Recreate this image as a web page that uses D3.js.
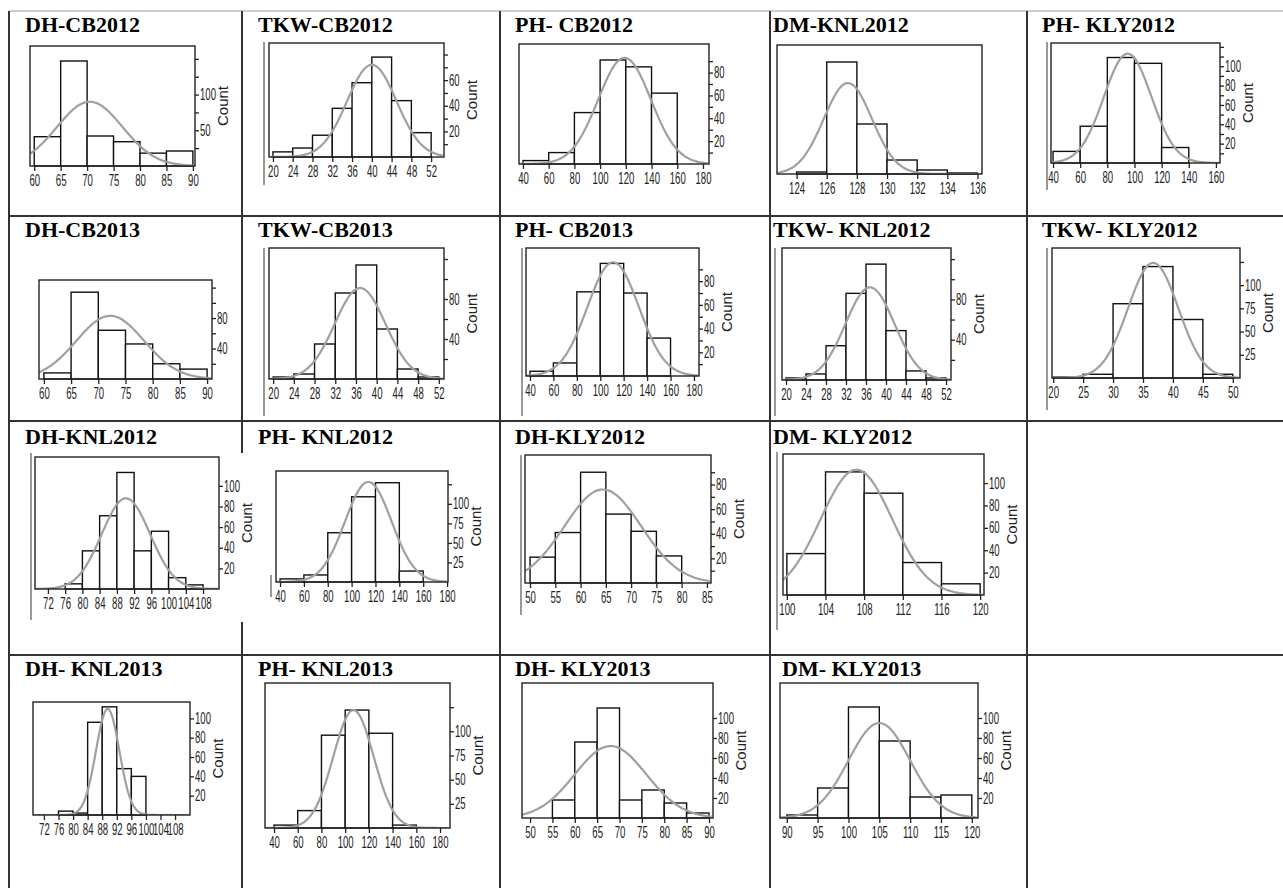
<!DOCTYPE html>
<html lang="en">
<head>
<meta charset="UTF-8">
<title>Histograms</title>
<script src="https://d3js.org/d3.v7.min.js"></script>
<style>
  body { margin: 0; background: #fff; }
  .title { font-family: "Liberation Serif", "Times New Roman", serif; font-weight: bold; font-size: 22px; fill: #000; }
  .tick text { font-family: "Liberation Sans", Arial, sans-serif; font-size: 16px; fill: #222; }
  .countLabel { font-family: "Liberation Sans", Arial, sans-serif; font-size: 15px; fill: #222; }
</style>
</head>
<body>
<svg id="chart" width="1283" height="888"></svg>
<script>

  // ---- data ----
  var titles = ["DH-CB2012", "TKW-CB2012", "PH- CB2012", "DM-KNL2012", "PH- KLY2012",
                "DH-CB2013", "TKW-CB2013", "PH- CB2013", "TKW- KNL2012", "TKW- KLY2012",
                "DH-KNL2012", "PH- KNL2012", "DH-KLY2012", "DM- KLY2012",
                "DH- KNL2013", "PH- KNL2013", "DH- KLY2013", "DM- KLY2013"];

  var binEdges = [
    [60, 65, 70, 75, 80, 85, 90],
    [20, 24, 28, 32, 36, 40, 44, 48, 52],
    [40, 60, 80, 100, 120, 140, 160],
    [124, 126, 128, 130, 132, 134, 136],
    [40, 60, 80, 100, 120, 140],
    [60, 65, 70, 75, 80, 85, 90],
    [20, 24, 28, 32, 36, 40, 44, 48, 52],
    [40, 60, 80, 100, 120, 140, 160],
    [20, 24, 28, 32, 36, 40, 44, 48, 52],
    [20, 25, 30, 35, 40, 45, 50],
    [76, 80, 84, 88, 92, 96, 100, 104, 108],
    [40, 60, 80, 100, 120, 140, 160],
    [50, 55, 60, 65, 70, 75, 80],
    [100, 104, 108, 112, 116, 120],
    [76, 80, 84, 88, 92, 96, 100],
    [40, 60, 80, 100, 120, 140, 160],
    [55, 60, 65, 70, 75, 80, 85, 90],
    [90, 95, 100, 105, 110, 115, 120]
  ];

  var counts = [
    [41, 147, 42, 34, 18, 21],
    [4, 7, 17, 38, 58, 78, 44, 19],
    [3, 10, 45, 91, 85, 62],
    [2, 112, 50, 14, 4, 1],
    [12, 38, 109, 103, 16],
    [8, 114, 64, 46, 20, 13],
    [2, 5, 35, 86, 114, 50, 10, 2],
    [4, 11, 71, 95, 70, 32],
    [2, 6, 34, 86, 115, 49, 9, 2],
    [1, 4, 80, 120, 63, 4],
    [5, 37, 71, 113, 37, 56, 11, 4],
    [4, 9, 63, 109, 127, 14],
    [21, 41, 90, 56, 42, 22],
    [37, 110, 91, 29, 10],
    [4, 2, 96, 112, 48, 40],
    [3, 18, 96, 122, 98, 3],
    [18, 76, 110, 18, 28, 15, 5],
    [3, 30, 111, 77, 21, 23]
  ];

  // fitted normal curve: mean, sd, height of peak (count)
  var fitMean = [70.5, 40, 119, 127.4, 95, 72.2, 36.8, 111, 36.8, 36.7, 90.1, 114, 64.4, 107.2, 89.5, 107, 68, 105];
  var fitSd   = [6.2, 5, 20.5, 1.6, 17.5, 6.2, 4.9, 22, 4.9, 4.2, 5.6, 19.5, 7.6, 3.7, 3.2, 17, 8, 5];
  var fitPeak = [90, 72, 93, 91, 113, 83, 91, 96, 92, 124, 88, 128, 76, 112, 110, 122, 72, 95];

  var xTicks = [
    [60, 65, 70, 75, 80, 85, 90],
    [20, 24, 28, 32, 36, 40, 44, 48, 52],
    [40, 60, 80, 100, 120, 140, 160, 180],
    [124, 126, 128, 130, 132, 134, 136],
    [40, 60, 80, 100, 120, 140, 160],
    [60, 65, 70, 75, 80, 85, 90],
    [20, 24, 28, 32, 36, 40, 44, 48, 52],
    [40, 60, 80, 100, 120, 140, 160, 180],
    [20, 24, 28, 32, 36, 40, 44, 48, 52],
    [20, 25, 30, 35, 40, 45, 50],
    [72, 76, 80, 84, 88, 92, 96, 100, 104, 108],
    [40, 60, 80, 100, 120, 140, 160, 180],
    [50, 55, 60, 65, 70, 75, 80, 85],
    [100, 104, 108, 112, 116, 120],
    [72, 76, 80, 84, 88, 92, 96, 100, 104, 108],
    [40, 60, 80, 100, 120, 140, 160, 180],
    [50, 55, 60, 65, 70, 75, 80, 85, 90],
    [90, 95, 100, 105, 110, 115, 120]
  ];

  var yTicks = [
    [25, 50, 75, 100, 125, 150],
    [10, 20, 30, 40, 50, 60, 70, 80],
    [10, 20, 30, 40, 50, 60, 70, 80, 90],
    [],
    [10, 20, 30, 40, 50, 60, 70, 80, 90, 100, 110, 120],
    [20, 40, 60, 80, 100, 120],
    [20, 40, 60, 80, 100, 120],
    [10, 20, 30, 40, 50, 60, 70, 80, 90],
    [20, 40, 60, 80, 100, 120],
    [25, 50, 75, 100, 125],
    [20, 40, 60, 80, 100],
    [25, 50, 75, 100, 125],
    [10, 20, 30, 40, 50, 60, 70, 80, 90],
    [20, 40, 60, 80, 100],
    [20, 40, 60, 80, 100],
    [25, 50, 75, 100, 125],
    [20, 40, 60, 80, 100],
    [20, 40, 60, 80, 100]
  ];

  var yLabels = [
    [50, 100], [20, 40, 60], [20, 40, 60, 80], [], [20, 40, 60, 80, 100],
    [40, 80], [40, 80], [20, 40, 60, 80], [40, 80], [25, 50, 75, 100],
    [20, 40, 60, 80, 100], [25, 50, 75, 100], [20, 40, 60, 80], [20, 40, 60, 80, 100],
    [20, 40, 60, 80, 100], [25, 50, 75, 100], [20, 40, 60, 80, 100], [20, 40, 60, 80, 100]
  ];

  var showCount = [true, true, false, false, true, false, true, true, true, true,
                   true, true, true, true, true, true, true, true];

  // x value at frame left/right edge, count at frame top
  var xDomains = [
    [59.2, 90.4], [19.2, 54.6], [36.9, 184.7], [122.7, 136.3], [38.5, 163],
    [59.1, 90.9], [19.2, 53.0], [36.6, 184.3], [19.2, 53.0], [19.8, 51.2],
    [69, 111.7], [36.6, 180.8], [49.0, 85.8], [99.6, 120.4],
    [69, 112.1], [32.4, 188.4], [48.2, 90.9], [88.9, 121]
  ];
  var yTops = [168, 89, 105, 129, 124, 130, 131, 108, 131, 140, 128, 142, 104, 126, 117, 150, 135, 135];

  // ---- layout ----
  var gridCols = [9, 242, 500, 770, 1027, 1283];
  var gridRows = [11, 216, 421, 655, 888];

  var frames = [
    [30, 46, 195, 166], [269, 43, 444, 157], [519, 44, 709, 164], [777, 45, 982, 174], [1051, 43, 1220, 163],
    [39, 280, 212, 379], [269, 248, 444, 379], [526, 248, 699, 376], [782, 248, 951, 380], [1052, 248, 1240, 378],
    [35, 457, 219, 589], [276, 471, 448, 582], [525, 455, 711, 583], [783, 454, 984, 595],
    [33, 702, 190, 815], [265, 683, 450, 828], [522, 683, 713, 818], [780, 683, 978, 818]
  ];
  var titlePos = [
    [25, 32], [258, 32], [515, 32], [773, 32], [1042, 32],
    [25, 237], [258, 237], [515, 237], [773, 237], [1042, 237],
    [25, 444], [258, 444], [515, 444], [773, 444],
    [25, 676], [258, 676], [515, 676], [782, 676]
  ];
  // stray left edges of the pasted images
  var edges = [
    [264, 42, 185], [1047, 42, 190], [264, 248, 416], [522, 248, 416], [775, 248, 416],
    [1047, 248, 410], [31, 453, 620], [271, 575, 597], [521, 455, 615], [777, 452, 630]
  ];
  var covers = [[238, 453, 8, 169]];

  var svg = d3.select("#chart");
  var gridG = svg.append("g");

  gridG.append("line").attr("x1", gridCols[0]).attr("x2", 1283)
    .attr("y1", gridRows[0]).attr("y2", gridRows[0])
    .style("stroke", "#bbb").style("stroke-width", 1.5);
  gridRows.slice(1, 4).forEach(function (y) {
    gridG.append("line").attr("x1", gridCols[0]).attr("x2", 1283).attr("y1", y).attr("y2", y)
      .style("stroke", "#333").style("stroke-width", 2);
  });
  gridCols.slice(0, 5).forEach(function (x) {
    gridG.append("line").attr("x1", x).attr("x2", x).attr("y1", gridRows[0]).attr("y2", 888)
      .style("stroke", "#333").style("stroke-width", 2);
  });
  covers.forEach(function (c) {
    gridG.append("rect").attr("x", c[0]).attr("y", c[1]).attr("width", c[2]).attr("height", c[3]).style("fill", "#fff");
  });
  edges.forEach(function (e) {
    gridG.append("line").attr("x1", e[0]).attr("x2", e[0]).attr("y1", e[1]).attr("y2", e[2])
      .style("stroke", "#777").style("stroke-width", 1.5);
  });

  var narrow = 0.6;

  function drawPanel(i) {
    var f = frames[i];
    var g = svg.append("g");

    g.append("text").attr("class", "title")
      .attr("x", titlePos[i][0]).attr("y", titlePos[i][1]).text(titles[i]);

    var x = d3.scaleLinear().domain(xDomains[i]).range([f[0], f[2]]);
    var y = d3.scaleLinear().domain([0, yTops[i]]).range([f[3], f[1]]);

    var clipId = "clip" + i;
    svg.append("clipPath").attr("id", clipId)
      .append("rect").attr("x", f[0]).attr("y", f[1]).attr("width", f[2] - f[0]).attr("height", f[3] - f[1]);

    var bins = counts[i].map(function (c, k) {
      return { x0: binEdges[i][k], x1: binEdges[i][k + 1], n: c };
    });

    g.append("g").selectAll("rect")
      .data(bins)
      .join("rect")
      .attr("x", function (d) { return x(d.x0); })
      .attr("y", function (d) { return y(d.n); })
      .attr("width", function (d) { return x(d.x1) - x(d.x0); })
      .attr("height", function (d) { return y(0) - y(d.n); })
      .style("fill", "#fff")
      .style("stroke", "#111")
      .style("stroke-width", 1.4);

    var m = fitMean[i], s = fitSd[i], p = fitPeak[i];
    var xs = d3.range(xDomains[i][0], xDomains[i][1], (xDomains[i][1] - xDomains[i][0]) / 150);
    var line = d3.line()
      .x(function (v) { return x(v); })
      .y(function (v) { return y(p * Math.exp(-(v - m) * (v - m) / (2 * s * s))); })
      .curve(d3.curveBasis);
    g.append("path").datum(xs)
      .attr("d", line)
      .attr("clip-path", "url(#" + clipId + ")")
      .style("fill", "none")
      .style("stroke", "#a0a0a0")
      .style("stroke-width", 2.2);

    g.append("rect")
      .attr("x", f[0]).attr("y", f[1]).attr("width", f[2] - f[0]).attr("height", f[3] - f[1])
      .style("fill", "none").style("stroke", "#222").style("stroke-width", 1.4);

    var xAxis = d3.axisBottom(x).tickValues(xTicks[i]).tickSize(5).tickSizeOuter(0);
    var xg = g.append("g").attr("transform", "translate(0," + f[3] + ")").call(xAxis);
    xg.select(".domain").remove();
    xg.selectAll(".tick line").style("stroke", "#222").style("stroke-width", 1.3);
    xg.selectAll(".tick text").attr("transform", "scale(" + narrow + ",1)").attr("y", 9);

    if (yTicks[i].length) {
      var labs = yLabels[i];
      var yAxis = d3.axisRight(y).tickValues(yTicks[i]).tickSize(4).tickSizeOuter(0)
        .tickFormat(function (d) { return labs.indexOf(d) >= 0 ? d : ""; });
      var yg = g.append("g").attr("transform", "translate(" + f[2] + ",0)").call(yAxis);
      yg.select(".domain").remove();
      yg.selectAll(".tick line").style("stroke", "#222").style("stroke-width", 1.3);
      yg.selectAll(".tick text").attr("transform", "scale(" + narrow + ",1)").attr("x", 5 / narrow);
    }

    if (showCount[i]) {
      var cx = f[2] + 28, cy = (f[1] + f[3]) / 2;
      g.append("text").attr("class", "countLabel")
        .attr("transform", "translate(" + cx + "," + cy + ") rotate(-90)")
        .attr("text-anchor", "middle").attr("dy", "0.35em")
        .text("Count");
    }
  }

  for (var i = 0; i < titles.length; i++) {
    drawPanel(i);
  }

</script>
</body>
</html>
